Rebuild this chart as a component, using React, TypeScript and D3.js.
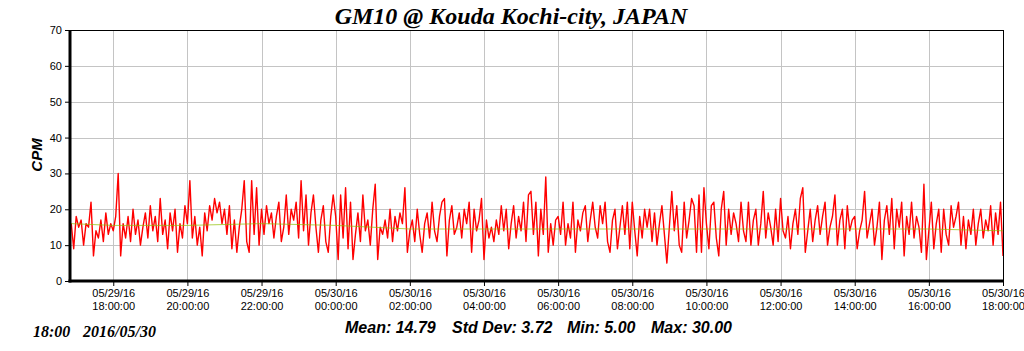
import React, { useEffect, useRef } from 'react';
import * as d3 from 'd3';

const title = 'GM10 @ Kouda Kochi-city, JAPAN';
const yLabel = 'CPM';
const footerTime = '18:00';
const footerDate = '2016/05/30';

// counts per minute, one reading every 4 minutes from 05/29 16:52 to 05/30 18:00
const stepMinutes = 4;
const firstReading = '2016-05-29 16:52';
const cpm = [
  // 16:52 - 17:56
  16, 9, 18, 15, 17, 10, 16, 15, 22, 7, 14, 12, 17, 11, 19, 13, 16,
  // 18:00 - 19:56
  14, 18, 30, 7, 16, 12, 18, 11, 20, 13, 17, 10, 15, 19, 12, 21, 14, 18, 11, 23, 13, 17, 9, 19, 14, 20, 8, 16, 12, 21,
  // 20:00 - 21:56
  16, 28, 12, 18, 10, 15, 7, 19, 14, 21, 17, 23, 19, 22, 16, 20, 13, 21, 9, 17, 8, 15, 20, 28, 11, 8, 28, 13, 26, 10,
  // 22:00 - 23:56
  20, 13, 21, 16, 19, 12, 18, 22, 11, 15, 24, 13, 20, 17, 22, 12, 28, 14, 24, 10, 19, 24, 15, 8, 17, 21, 11, 8, 18, 24,
  // 00:00 - 01:56
  18, 6, 24, 12, 26, 9, 22, 6, 13, 19, 11, 24, 14, 17, 10, 20, 27, 6, 15, 13, 17, 12, 20, 11, 18, 14, 19, 16, 26, 8,
  // 02:00 - 03:56
  14, 17, 11, 20, 13, 8, 16, 19, 12, 22, 14, 11, 18, 22, 23, 7, 17, 21, 13, 15, 19, 12, 20, 16, 22, 8, 20, 14, 17, 23,
  // 04:00 - 05:56
  6, 17, 12, 15, 11, 17, 13, 21, 14, 20, 9, 16, 21, 12, 18, 14, 22, 11, 24, 25, 13, 22, 7, 20, 13, 29, 8, 16, 10, 17,
  // 06:00 - 07:56
  18, 13, 22, 10, 16, 12, 22, 8, 17, 14, 19, 21, 11, 17, 22, 15, 12, 21, 16, 22, 11, 8, 17, 20, 9, 15, 21, 13, 22, 9,
  // 08:00 - 09:56
  22, 14, 7, 18, 12, 20, 15, 20, 11, 19, 10, 16, 21, 13, 5, 15, 25, 14, 21, 10, 8, 22, 12, 17, 23, 21, 8, 24, 8, 26,
  // 10:00 - 11:56
  16, 9, 21, 22, 12, 7, 20, 25, 10, 20, 13, 19, 16, 11, 22, 14, 11, 22, 10, 17, 20, 10, 16, 25, 12, 19, 15, 10, 20, 11,
  // 12:00 - 13:56
  23, 14, 12, 18, 9, 16, 20, 13, 23, 26, 8, 14, 20, 11, 17, 21, 13, 18, 22, 10, 15, 18, 24, 10, 17, 20, 9, 21, 14, 17,
  // 14:00 - 15:56
  18, 9, 14, 17, 25, 12, 16, 20, 10, 15, 22, 6, 17, 21, 13, 23, 9, 20, 15, 22, 7, 18, 13, 22, 12, 18, 15, 8, 27, 6,
  // 16:00 - 18:00
  14, 22, 9, 16, 20, 8, 20, 13, 10, 21, 15, 18, 22, 10, 18, 9, 17, 13, 20, 10, 16, 20, 12, 17, 14, 21, 10, 19, 13, 22,
  7,
];

// running average (the thin green line)
const avgTimes = [
  '2016-05-29 16:52', '2016-05-29 18:00', '2016-05-29 20:00', '2016-05-29 22:00',
  '2016-05-30 00:00', '2016-05-30 02:00', '2016-05-30 04:00', '2016-05-30 06:00',
  '2016-05-30 08:00', '2016-05-30 10:00', '2016-05-30 12:00', '2016-05-30 14:00',
  '2016-05-30 16:00', '2016-05-30 18:00',
];
const avgCpm = [16, 15.5, 15.5, 16, 15.5, 14.5, 14.5, 14.5, 14.5, 14.5, 14.5, 14.5, 14.5, 14];

const xDomain = ['2016-05-29 16:50', '2016-05-30 18:00'];
const xTicks = [
  '2016-05-29 18:00', '2016-05-29 20:00', '2016-05-29 22:00', '2016-05-30 00:00',
  '2016-05-30 02:00', '2016-05-30 04:00', '2016-05-30 06:00', '2016-05-30 08:00',
  '2016-05-30 10:00', '2016-05-30 12:00', '2016-05-30 14:00', '2016-05-30 16:00',
  '2016-05-30 18:00',
];
const yTicks = [0, 10, 20, 30, 40, 50, 60, 70];

const statLabels = ['Mean: 14.79', 'Std Dev: 3.72', 'Min: 5.00', 'Max: 30.00'];

const App = () => {
  const ref = useRef<SVGSVGElement | null>(null);

  useEffect(() => {
    document.body.style.margin = '0';
    const svg = d3.select(ref.current);
    svg.selectAll('*').remove();

    const parse = d3.timeParse('%Y-%m-%d %H:%M');
    const margin = { top: 30, right: 21, bottom: 70, left: 70 };
    const width = 1024 - margin.left - margin.right;
    const height = 351 - margin.top - margin.bottom;

    const x = d3
      .scaleTime()
      .domain(xDomain.map((d) => parse(d) as Date))
      .range([0, width]);
    const y = d3.scaleLinear().domain([0, 70]).range([height, 0]);

    const t0 = parse(firstReading) as Date;
    const points = cpm.map((v, i) => ({ t: d3.timeMinute.offset(t0, i * stepMinutes), v }));
    const avg = avgCpm.map((v, i) => ({ t: parse(avgTimes[i]) as Date, v }));

    const sans = 'Arial, "Liberation Sans", sans-serif';
    const serif = '"Times New Roman", "Liberation Serif", serif';

    // title
    svg
      .append('text')
      .attr('x', 511)
      .attr('y', 24)
      .attr('text-anchor', 'middle')
      .style('font-family', serif)
      .style('font-size', '24px')
      .style('font-weight', 'bold')
      .style('font-style', 'italic')
      .text(title);

    const g = svg.append('g').attr('transform', `translate(${margin.left},${margin.top})`);

    // grid
    g.append('g')
      .selectAll('line')
      .data(yTicks.slice(1, -1))
      .join('line')
      .attr('x1', 0)
      .attr('x2', width)
      .attr('y1', (d) => Math.round(y(d)) + 0.5)
      .attr('y2', (d) => Math.round(y(d)) + 0.5)
      .attr('stroke', '#c4c4c4');
    g.append('g')
      .selectAll('line')
      .data(xTicks.map((d) => parse(d) as Date))
      .join('line')
      .attr('x1', (d) => Math.round(x(d)) + 0.5)
      .attr('x2', (d) => Math.round(x(d)) + 0.5)
      .attr('y1', 0)
      .attr('y2', height)
      .attr('stroke', '#c4c4c4');

    // data
    g.append('clipPath')
      .attr('id', 'plot-clip')
      .append('rect')
      .attr('width', width)
      .attr('height', height);

    const line = d3
      .line<{ t: Date; v: number }>()
      .x((d) => x(d.t))
      .y((d) => y(d.v));

    g.append('path')
      .datum(points)
      .attr('clip-path', 'url(#plot-clip)')
      .attr('d', line)
      .attr('fill', 'none')
      .attr('stroke', '#ff0000')
      .attr('stroke-width', 1.4)
      .attr('stroke-linejoin', 'round');

    g.append('path')
      .datum(avg)
      .attr('clip-path', 'url(#plot-clip)')
      .attr('d', line)
      .attr('fill', 'none')
      .attr('stroke', '#8fbf00')
      .attr('stroke-opacity', 0.7)
      .attr('stroke-width', 1);

    // frame
    g.append('line').attr('x1', 0).attr('x2', width).attr('y1', 0.5).attr('y2', 0.5).attr('stroke', '#000');
    g.append('line').attr('x1', width + 0.5).attr('x2', width + 0.5).attr('y1', 0).attr('y2', height).attr('stroke', '#000');

    // y axis
    const yAxis = g
      .append('g')
      .call(d3.axisLeft(y).tickValues(yTicks).tickSize(5).tickPadding(3))
      .style('font-family', sans)
      .style('font-size', '11px');
    yAxis.select('.domain').remove();
    yAxis.selectAll('text').attr('fill', '#000');
    g.append('line').attr('x1', 0).attr('x2', 0).attr('y1', 0).attr('y2', height + 1.5).attr('stroke', '#000').attr('stroke-width', 3);

    // x axis
    const fmtDate = d3.timeFormat('%m/%d/%y');
    const fmtTime = d3.timeFormat('%H:%M:%S');
    const xAxis = g
      .append('g')
      .attr('transform', `translate(0,${height})`)
      .call(
        d3
          .axisBottom(x)
          .tickValues(xTicks.map((d) => parse(d) as Date))
          .tickSize(5)
          .tickFormat(() => '')
      );
    xAxis.select('.domain').remove();
    xAxis
      .selectAll('.tick')
      .append('text')
      .attr('fill', '#000')
      .attr('text-anchor', 'middle')
      .style('font-family', sans)
      .style('font-size', '11px')
      .each(function (d) {
        const t = d3.select(this);
        t.append('tspan').attr('x', 0).attr('y', 16).text(fmtDate(d as Date));
        t.append('tspan').attr('x', 0).attr('y', 29).text(fmtTime(d as Date));
      });
    g.append('line').attr('x1', -1.5).attr('x2', width + 1).attr('y1', height).attr('y2', height).attr('stroke', '#000').attr('stroke-width', 3);

    // y label
    svg
      .append('text')
      .attr('transform', `translate(42,155) rotate(-90)`)
      .attr('text-anchor', 'middle')
      .style('font-family', sans)
      .style('font-size', '15px')
      .style('font-weight', 'bold')
      .style('font-style', 'italic')
      .text(yLabel);

    // footer
    const footer = svg
      .append('g')
      .style('font-family', serif)
      .style('font-size', '16px')
      .style('font-weight', 'bold')
      .style('font-style', 'italic');
    footer.append('text').attr('x', 33).attr('y', 337).text(footerTime);
    footer.append('text').attr('x', 83).attr('y', 337).text(footerDate);

    const statX = [345, 452, 567, 651];
    svg
      .append('g')
      .style('font-family', sans)
      .style('font-size', '16px')
      .style('font-weight', 'bold')
      .style('font-style', 'italic')
      .selectAll('text')
      .data(statLabels)
      .join('text')
      .attr('x', (_, i) => statX[i])
      .attr('y', 333)
      .text((d) => d);
  }, []);

  return <svg ref={ref} width={1024} height={351} style={{ display: 'block', background: '#fff' }} />;
};

export default App;
